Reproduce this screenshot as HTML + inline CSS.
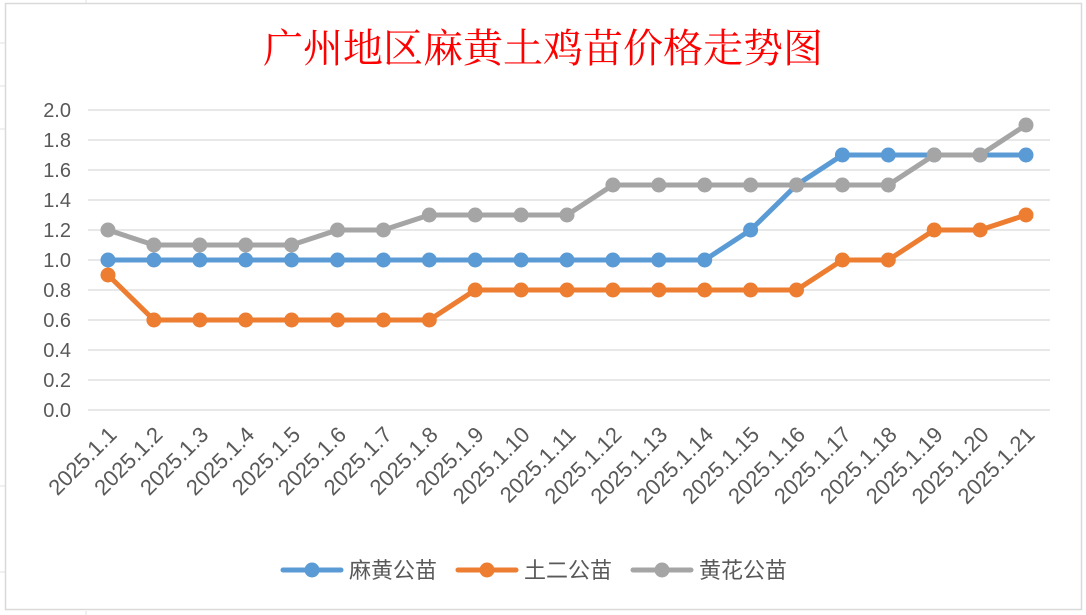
<!DOCTYPE html>
<html><head><meta charset="utf-8"><style>
body{margin:0;background:#fff;}
svg{display:block;font-family:"Liberation Sans","Noto Sans CJK SC",sans-serif;}
</style></head><body>
<svg width="1086" height="615">
<rect x="0" y="0" width="1086" height="615" fill="#fff"/>
<g stroke="#e2e2e2" stroke-width="1">
<line x1="0" y1="43" x2="5" y2="43"/><line x1="0" y1="86" x2="5" y2="86"/><line x1="0" y1="129" x2="5" y2="129"/><line x1="0" y1="486" x2="5" y2="486"/><line x1="0" y1="572" x2="5" y2="572"/>
<line x1="86" y1="0" x2="86" y2="4"/><line x1="86" y1="611" x2="86" y2="615"/>
</g>
<rect x="5.5" y="3.5" width="1076" height="606" fill="#fff" stroke="#d9d9d9" stroke-width="1.5"/>
<text x="543" y="62" text-anchor="middle" font-size="40" fill="#ff0000" font-family="'Noto Serif CJK SC','Noto Sans CJK SC',serif">广州地区麻黄土鸡苗价格走势图</text>
<g id="grid"></g><g id="yt"></g><g id="xt"></g><g id="series"></g>
<g id="legend"></g>
</svg>
<script>
const categories=["2025.1.1","2025.1.2","2025.1.3","2025.1.4","2025.1.5","2025.1.6","2025.1.7","2025.1.8","2025.1.9","2025.1.10","2025.1.11","2025.1.12","2025.1.13","2025.1.14","2025.1.15","2025.1.16","2025.1.17","2025.1.18","2025.1.19","2025.1.20","2025.1.21"];
const mahuang=[1.0,1.0,1.0,1.0,1.0,1.0,1.0,1.0,1.0,1.0,1.0,1.0,1.0,1.0,1.2,1.5,1.7,1.7,1.7,1.7,1.7];
const tuer=[0.9,0.6,0.6,0.6,0.6,0.6,0.6,0.6,0.8,0.8,0.8,0.8,0.8,0.8,0.8,0.8,1.0,1.0,1.2,1.2,1.3];
const huanghua=[1.2,1.1,1.1,1.1,1.1,1.2,1.2,1.3,1.3,1.3,1.3,1.5,1.5,1.5,1.5,1.5,1.5,1.5,1.7,1.7,1.9];
const yTicks=["0.0","0.2","0.4","0.6","0.8","1.0","1.2","1.4","1.6","1.8","2.0"];
const seriesNames=["麻黄公苗","土二公苗","黄花公苗"];
const colors=["#5b9bd5","#ed7d31","#a5a5a5"];
const NS="http://www.w3.org/2000/svg";
function mk(t,a,p){const e=document.createElementNS(NS,t);for(const k in a)e.setAttribute(k,a[k]);p.appendChild(e);return e;}
const x0=108,x1=1026,yBase=410,yTop=110,yMax=2.0;
const X=i=>x0+i*(x1-x0)/(categories.length-1);
const Y=v=>yBase-(v/yMax)*(yBase-yTop);
const grid=document.getElementById('grid'),yt=document.getElementById('yt'),xt=document.getElementById('xt');
yTicks.forEach(t=>{const v=parseFloat(t);
const l=mk('line',{x1:88,x2:1050,y1:Y(v),y2:Y(v),stroke:'#d9d9d9','stroke-width':1.3},grid);


const tx=mk('text',{x:71,y:Y(v)+7,'text-anchor':'end','font-size':20,fill:'#595959'},yt);tx.textContent=t;

});
categories.forEach((c,i)=>{const x=X(i)+10,y=436;
const tx=mk('text',{x:x,y:y,'text-anchor':'end','font-size':22,fill:'#595959',transform:`rotate(-45 ${x} ${y})`},xt);tx.textContent=c;

});
const sg=document.getElementById('series');
[mahuang,tuer,huanghua].forEach((d,s)=>{const g=mk('g',{},sg);


const pl=mk('polyline',{points:d.map((v,i)=>X(i)+','+Y(v)).join(' '),fill:'none',stroke:colors[s],'stroke-width':5,'stroke-linejoin':'round'},g);


d.forEach((v,i)=>{const c=mk('circle',{cx:X(i),cy:Y(v),r:7.5,fill:colors[s]},g);

});});
const lg=document.getElementById('legend');const lx=[283,458,633];
seriesNames.forEach((n,s)=>{const g=mk('g',{},lg);


mk('line',{x1:lx[s],x2:lx[s]+58,y1:570,y2:570,stroke:colors[s],'stroke-width':5,'stroke-linecap':'round'},g);
mk('circle',{cx:lx[s]+29,cy:570,r:7.5,fill:colors[s]},g);
const t=mk('text',{x:lx[s]+66,y:578,'font-size':22,fill:'#595959'},g);t.textContent=n;});
</script>
</body></html>
